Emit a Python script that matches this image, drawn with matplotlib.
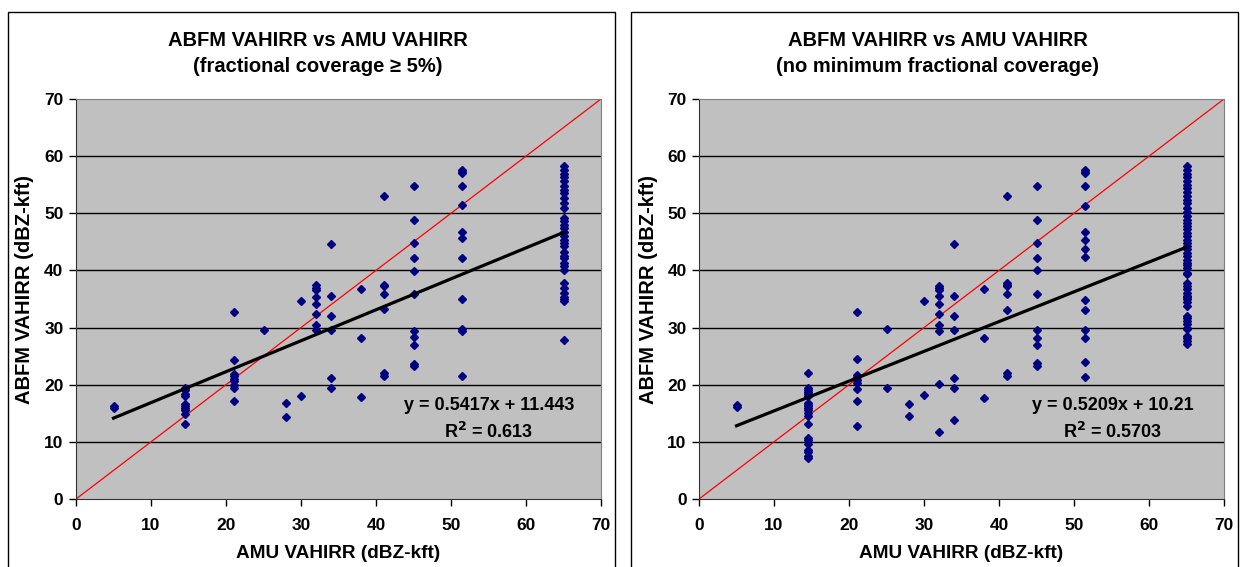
import numpy as np
import matplotlib
matplotlib.use("Agg")
import matplotlib.pyplot as plt
from matplotlib.patches import Rectangle

plt.rcParams['font.family'] = ['Liberation Sans', 'DejaVu Sans']
plt.rcParams['font.weight'] = 'bold'

# ---------------- data ----------------
amu_levels = [5, 14.5, 21, 25, 28, 30, 32, 34, 38, 41, 45, 51.5, 65]

# left panel: fractional coverage >= 5%
fc5_abfm = [
    [16.3, 16.0],
    [19.5, 19.1, 18.4, 18.1, 16.6, 16.2, 15.9, 15.5, 14.8, 13.1],
    [32.7, 24.4, 21.8, 21.5, 21.0, 20.6, 20.0, 19.4, 17.1],
    [29.6],
    [16.8, 14.4],
    [34.7, 18.1],
    [37.4, 37.0, 36.6, 35.4, 34.2, 32.4, 30.5, 29.5],
    [44.7, 35.5, 32.0, 29.5, 21.1, 19.4],
    [36.8, 28.1, 17.9],
    [53.0, 37.5, 37.2, 35.8, 33.2, 22.1, 21.6],
    [54.7, 48.8, 44.8, 42.1, 39.9, 35.8, 29.4, 28.3, 27.0, 23.7, 23.2],
    [57.6, 57.3, 57.1, 54.7, 51.4, 46.7, 45.6, 42.2, 35.0, 29.8, 29.4, 21.5],
    [58.2, 57.5, 56.9, 56.3, 55.6, 54.7, 54.1, 53.6, 52.7, 51.8, 50.9, 49.2,
     48.6, 48.0, 47.4, 46.7, 46.0, 45.4, 44.8, 44.2, 43.3, 42.6, 42.1, 41.3,
     40.8, 40.1, 37.8, 36.9, 36.1, 35.4, 35.0, 34.6, 27.9],
]

# right panel: no minimum fractional coverage
all_abfm = [
    [16.5, 16.1],
    [22.0, 19.5, 19.1, 18.7, 18.4, 18.1, 16.8, 16.5, 16.2, 15.9, 15.5, 15.1,
     14.5, 13.2, 10.6, 10.3, 9.7, 8.5, 8.2, 7.5, 7.2],
    [32.8, 24.5, 21.7, 21.4, 20.9, 20.3, 19.3, 17.2, 12.8],
    [29.7, 19.5],
    [16.7, 14.5],
    [34.7, 18.2],
    [37.3, 36.9, 36.5, 35.5, 34.2, 32.3, 30.5, 29.4, 20.1, 11.8],
    [44.7, 35.6, 32.1, 29.5, 21.2, 19.4, 13.8],
    [36.8, 28.2, 17.7],
    [53.0, 37.8, 37.5, 37.2, 35.9, 33.1, 22.1, 21.6],
    [54.7, 48.8, 44.8, 42.2, 40.0, 35.9, 29.5, 28.2, 26.9, 23.8, 23.3],
    [57.6, 57.3, 57.1, 54.7, 51.3, 46.8, 45.4, 43.7, 42.3, 34.9, 33.1, 29.6,
     28.1, 23.9, 21.4],
    [58.2, 57.5, 56.9, 56.3, 55.6, 54.9, 54.4, 53.8, 53.0, 52.4, 51.8, 50.9,
     50.3, 49.5, 48.9, 48.3, 47.7, 47.2, 46.6, 46.0, 45.4, 44.8, 44.2, 43.7,
     43.1, 42.5, 41.9, 41.3, 41.0, 40.5, 39.6, 39.3, 37.8, 37.3, 36.7, 36.1,
     35.6, 35.3, 35.0, 34.4, 33.8, 32.0, 31.6, 31.2, 30.6, 30.0, 29.8, 28.6,
     28.1, 27.6, 27.2],
]

fc5_fit = (0.5417, 11.443)
all_fit = (0.5209, 10.21)
fc5_r2 = "0.613"
all_r2 = "0.5703"

title_line1 = "ABFM VAHIRR vs AMU VAHIRR"
subtitles = ["(fractional coverage \u2265 5%)",
             "(no minimum fractional coverage)"]
xlabel = "AMU VAHIRR (dBZ-kft)"
ylabel = "ABFM VAHIRR (dBZ-kft)"
ticks = [0, 10, 20, 30, 40, 50, 60, 70]

# ---------------- figure ----------------
W, H = 1241, 567
fig = plt.figure(figsize=(W / 100, H / 100), dpi=100)
fig.patch.set_facecolor('white')


def fx(px):
    return px / W


def fy(py):
    return 1 - py / H


# panel frames
for x0, x1 in [(8, 615), (631, 1238)]:
    fig.patches.append(Rectangle((fx(x0), fy(600)), fx(x1) - fx(x0), fy(12) - fy(600),
                                 transform=fig.transFigure, fill=False,
                                 edgecolor='black', linewidth=1.0, clip_on=False))

panels = [
    (76, fc5_abfm, fc5_fit, fc5_r2, subtitles[0], 318, (489, 405)),
    (699, all_abfm, all_fit, all_r2, subtitles[1], 938, (1113, 405)),
]

for left_px, groups, fit, r2, subtitle, tcx, eqpos in panels:
    ax = fig.add_axes([fx(left_px), fy(499), 525 / W, 400 / H])
    ax.set_facecolor('#C0C0C0')
    ax.set_xlim(0, 70)
    ax.set_ylim(0, 70)
    ax.set_xticks(ticks)
    ax.set_yticks(ticks)
    ax.tick_params(direction='out', length=5, width=1, labelsize=12.5)
    ax.tick_params(axis='x', pad=9)
    ax.tick_params(axis='y', pad=4)
    for lab in ax.get_xticklabels() + ax.get_yticklabels():
        lab.set_fontweight('bold')
    for s in ['top', 'right']:
        ax.spines[s].set_color('#808080')
    for s in ['left', 'bottom']:
        ax.spines[s].set_color('#333333')
    for g in ticks[1:-1]:
        ax.axhline(g, color='black', linewidth=1.0, zorder=1)

    xs = np.concatenate([[lv] * len(ys) for lv, ys in zip(amu_levels, groups)])
    ys = np.concatenate(groups)
    ax.plot(xs, ys, linestyle='none', marker='D', markersize=3.8,
            color='#000080', zorder=3)

    ax.plot([0, 70], [0, 70], color='red', linewidth=0.9, zorder=2)
    xl = np.array([min(amu_levels), max(amu_levels)])
    ax.plot(xl, fit[0] * xl + fit[1], color='black', linewidth=2.3, zorder=4)

    ax.set_xlabel(xlabel, fontsize=13.7, fontweight='bold')
    ax.set_ylabel(ylabel, fontsize=14.5, fontweight='bold')
    ax.xaxis.set_label_coords(0.5, (499 - 553) / 400)
    ax.yaxis.set_label_coords((25 - 76) / 525, (499 - 290) / 400)
    ax.yaxis.label.set_verticalalignment('center')
    ax.xaxis.label.set_verticalalignment('center')

    fig.text(fx(tcx), fy(40), title_line1, ha='center', va='center', fontsize=14.5,
             fontweight='bold')
    fig.text(fx(tcx), fy(67), subtitle, ha='center', va='center', fontsize=14.5,
             fontweight='bold')
    fig.text(fx(eqpos[0]), fy(eqpos[1]), f"y = {fit[0]}x + {fit[1]}",
             ha='center', va='center', fontsize=13, fontweight='bold')
    fig.text(fx(eqpos[0]), fy(eqpos[1] + 27), f"R$^{{2}}$ = {r2}",
             ha='center', va='center', fontsize=13, fontweight='bold')

fig.savefig('out.png', dpi=100)
